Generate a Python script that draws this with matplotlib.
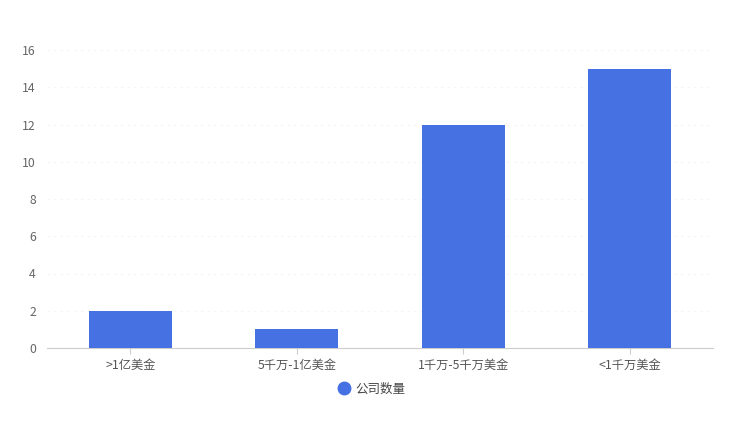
import matplotlib
matplotlib.use("Agg")
import matplotlib.pyplot as plt
from matplotlib.lines import Line2D

plt.rcParams['font.family'] = ['Noto Sans CJK SC', 'DejaVu Sans']

categories = [">1亿美金", "5千万-1亿美金", "1千万-5千万美金", "<1千万美金"]
values = [2, 1, 12, 15]
series_name = "公司数量"
yticks = [0, 2, 4, 6, 8, 10, 12, 14, 16]

color = "#4671E2"
fig = plt.figure(figsize=(7.46, 4.25), dpi=100)
ax = fig.add_axes([47/746, 1-348/425, (713-47)/746, (348-50)/425])

x = list(range(len(categories)))
ax.bar(x, values, width=0.5, color=color, zorder=3)
ax.set_xlim(-0.5, len(categories)-0.5)
ax.set_ylim(0, 16)
ax.set_yticks(yticks)
ax.set_xticks(x)
ax.set_xticklabels(categories)
for s in ['top', 'right', 'left']:
    ax.spines[s].set_visible(False)
ax.spines['bottom'].set_color('#cccccc')
ax.tick_params(axis='y', length=0, colors='#666666', labelsize=8.8, pad=8)
ax.tick_params(axis='x', length=4, color='#cccccc', colors='#555555', labelsize=8.8, pad=4)
ax.grid(axis='y', color='#f4f4f4', linestyle=(0, (2, 4)), linewidth=0.8, zorder=0)

handle = Line2D([], [], marker='o', linestyle='None', markersize=9, color=color)
fig.legend([handle], [series_name], loc='center', bbox_to_anchor=(368/746, 1-389/425),
           frameon=False, fontsize=9, handletextpad=-0.1, labelcolor='#444444')
fig.savefig("out.png", dpi=100)
